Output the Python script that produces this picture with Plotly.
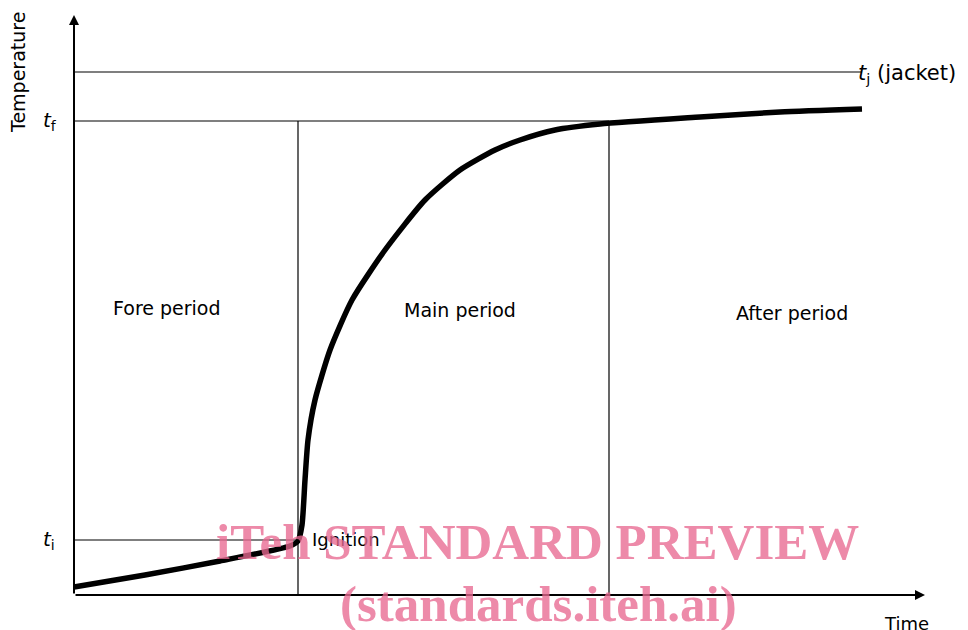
import plotly.graph_objects as go

# Curve (time, temperature) in arbitrary units
time = [0, 71, 146, 216, 224, 228, 231, 234, 241, 256, 278, 311, 351, 386, 421, 446, 481, 526, 626, 706, 788]
temp = [8, 20, 34, 49, 54, 70, 115, 155, 195, 245, 295, 345, 395, 425, 445, 455, 465, 471, 478, 483, 486]

# Reference levels
t_i = 55
t_f = 474
t_j = 523
t_ignition = 224
t_end_main = 535
t_max = 788
x_axis_end = 851
y_axis_end = 580

period_labels = ["Fore period", "Main period", "After period"]
period_x = [93, 386, 718]
period_y = [287, 285, 282]

FONT = "DejaVu Sans"
fig = go.Figure()

thin = dict(color="black", width=1.2)
# horizontal reference lines
fig.add_trace(go.Scatter(x=[0, t_max], y=[t_j, t_j], mode="lines", line=thin))
fig.add_trace(go.Scatter(x=[0, t_end_main], y=[t_f, t_f], mode="lines", line=thin))
fig.add_trace(go.Scatter(x=[0, t_ignition], y=[t_i, t_i], mode="lines", line=thin))
# vertical period separators
fig.add_trace(go.Scatter(x=[t_ignition, t_ignition], y=[0, t_f], mode="lines", line=thin))
fig.add_trace(go.Scatter(x=[t_end_main, t_end_main], y=[0, t_f], mode="lines", line=thin))
# temperature curve
fig.add_trace(go.Scatter(x=time, y=temp, mode="lines",
                         line=dict(color="black", width=5.5, shape="spline", smoothing=0.6)))

# axes with arrows
fig.add_annotation(x=x_axis_end, y=0, ax=0, ay=0, xref="x", yref="y", axref="x", ayref="y",
                   showarrow=True, arrowhead=2, arrowsize=1, arrowwidth=2, arrowcolor="black", text="")
fig.add_annotation(x=0, y=y_axis_end, ax=0, ay=0, xref="x", yref="y", axref="x", ayref="y",
                   showarrow=True, arrowhead=2, arrowsize=1, arrowwidth=2, arrowcolor="black", text="")

lab = dict(family=FONT, size=18, color="black")
fig.add_annotation(x=-56, y=522, text="Temperature", textangle=-90, showarrow=False,
                   font=dict(family=FONT, size=19, color="black"),
                   xanchor="center", yanchor="middle")
fig.add_annotation(x=832, y=-28, text="Time", showarrow=False, font=lab, xanchor="center", yanchor="middle")
fig.add_annotation(x=-24, y=t_f, text="<i>t</i><sub>f</sub>", showarrow=False,
                   font=dict(family=FONT, size=20, color="black"), xanchor="center", yanchor="middle")
fig.add_annotation(x=-25, y=t_i, text="<i>t</i><sub>i</sub>", showarrow=False,
                   font=dict(family=FONT, size=20, color="black"), xanchor="center", yanchor="middle")
fig.add_annotation(x=t_max - 6, y=t_j - 2, text="<i>t</i><sub>j</sub> (jacket)", showarrow=False,
                   font=dict(family=FONT, size=21, color="black"), xanchor="left", yanchor="middle")
fig.add_annotation(x=t_ignition + 12, y=t_i + 1, text="Ignition", showarrow=False, font=lab,
                   xanchor="left", yanchor="middle")
for txt, px, py in zip(period_labels, period_x, period_y):
    fig.add_annotation(x=px, y=py, text=txt, showarrow=False,
                       font=dict(family=FONT, size=19, color="black"), xanchor="center", yanchor="middle")

# watermark
wm = dict(family="Liberation Serif", size=51, color="rgba(232,105,145,0.78)")
fig.add_annotation(x=463, y=53, text="<b>iTeh STANDARD PREVIEW</b>", showarrow=False, font=wm,
                   xanchor="center", yanchor="middle")
fig.add_annotation(x=464, y=-9, text="<b>(standards.iteh.ai)</b>", showarrow=False, font=wm,
                   xanchor="center", yanchor="middle")

# page body has an 8px margin: shift the ranges so the drawing lands in place
fig.update_layout(
    width=968, height=630, showlegend=False,
    margin=dict(l=0, r=0, t=0, b=0),
    paper_bgcolor="white", plot_bgcolor="white",
    xaxis=dict(range=[-66, 902], visible=False, fixedrange=True),
    yaxis=dict(range=[-43, 587], visible=False, fixedrange=True),
)
fig.write_html("out.html")
